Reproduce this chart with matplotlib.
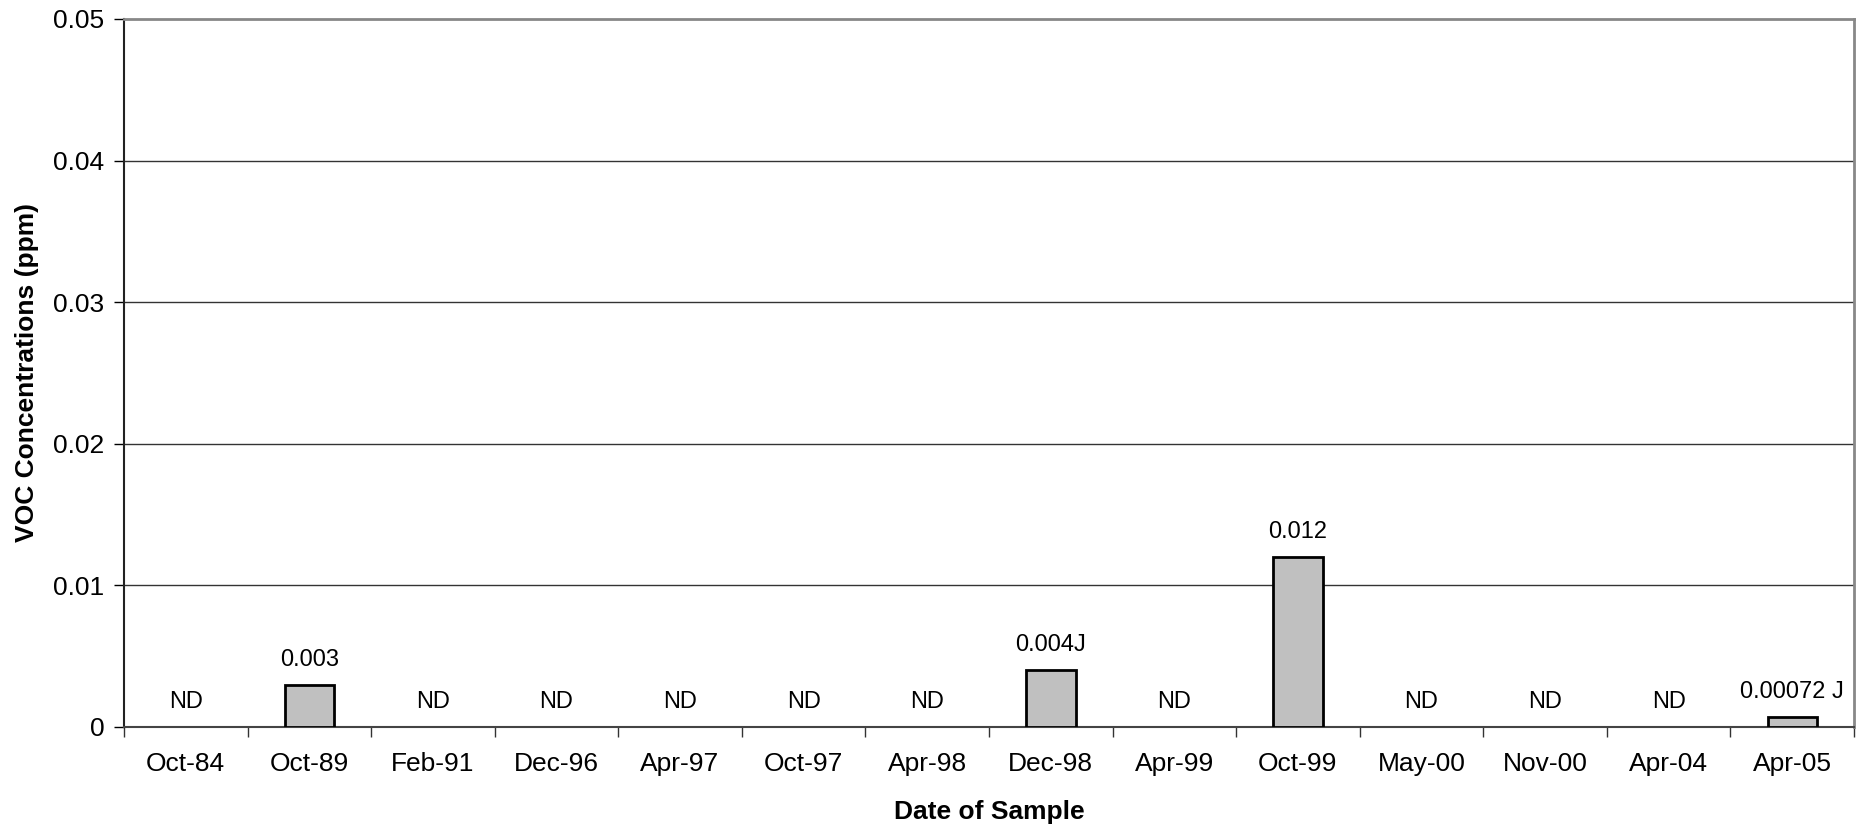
import numpy as np
import matplotlib
matplotlib.use("Agg")
import matplotlib.pyplot as plt

plt.rcParams["font.family"] = ["Liberation Sans", "DejaVu Sans"]

dates = ["Oct-84", "Oct-89", "Feb-91", "Dec-96", "Apr-97", "Oct-97", "Apr-98",
         "Dec-98", "Apr-99", "Oct-99", "May-00", "Nov-00", "Apr-04", "Apr-05"]
conc = [0, 0.003, 0, 0, 0, 0, 0, 0.004, 0, 0.012, 0, 0, 0, 0.00072]
labels = ["ND", "0.003", "ND", "ND", "ND", "ND", "ND", "0.004J", "ND", "0.012",
          "ND", "ND", "ND", "0.00072 J"]
yticks = [0, 0.01, 0.02, 0.03, 0.04, 0.05]

fig = plt.figure(figsize=(18.64, 8.26), dpi=100)
ax = fig.add_axes([124 / 1864, 1 - 727 / 826, (1854 - 124) / 1864, (727 - 19) / 826])

x = np.arange(len(dates))
# no outline for the non-detects, only real bars get a border
edge_w = [2 if v > 0 else 0 for v in conc]
ax.bar(x, conc, width=0.4, color="#c0c0c0", edgecolor="black", linewidth=edge_w, zorder=3)

for xi, v, lab in zip(x, conc, labels):
    ax.annotate(lab, (xi, v), xytext=(0, 18), textcoords="offset points",
                ha="center", va="center", fontsize=17)

ax.set_xlim(-0.5, len(dates) - 0.5)
ax.set_ylim(0, 0.05)
ax.set_yticks(yticks)
ax.set_yticklabels(["0" if t == 0 else f"{t:.2f}" for t in yticks], fontsize=19)
for t in yticks[1:-1]:
    ax.axhline(t, color="#333333", linewidth=1, zorder=1)

ax.set_xticks(x)
ax.set_xticklabels(dates, fontsize=19)
ax.set_xticks(np.arange(-0.5, len(dates), 1), minor=True)
ax.tick_params(axis="x", which="major", length=0, pad=18)
ax.tick_params(axis="x", which="minor", length=7, width=1, color="#333333")
ax.tick_params(axis="y", length=7, width=1, pad=7)

ax.spines["left"].set_color("#222222")
ax.spines["left"].set_linewidth(1.5)
ax.spines["bottom"].set_color("#444444")
ax.spines["bottom"].set_linewidth(1.5)
ax.spines["top"].set_color("#888888")
ax.spines["top"].set_linewidth(2)
ax.spines["right"].set_color("#888888")
ax.spines["right"].set_linewidth(2)

ax.set_xlabel("Date of Sample", fontsize=19, fontweight="bold", labelpad=17)
ax.set_ylabel("VOC Concentrations (ppm)", fontsize=19, fontweight="bold")
ax.yaxis.set_label_coords(-85 / 1730, 0.5)

fig.savefig("out.png", dpi=100)
